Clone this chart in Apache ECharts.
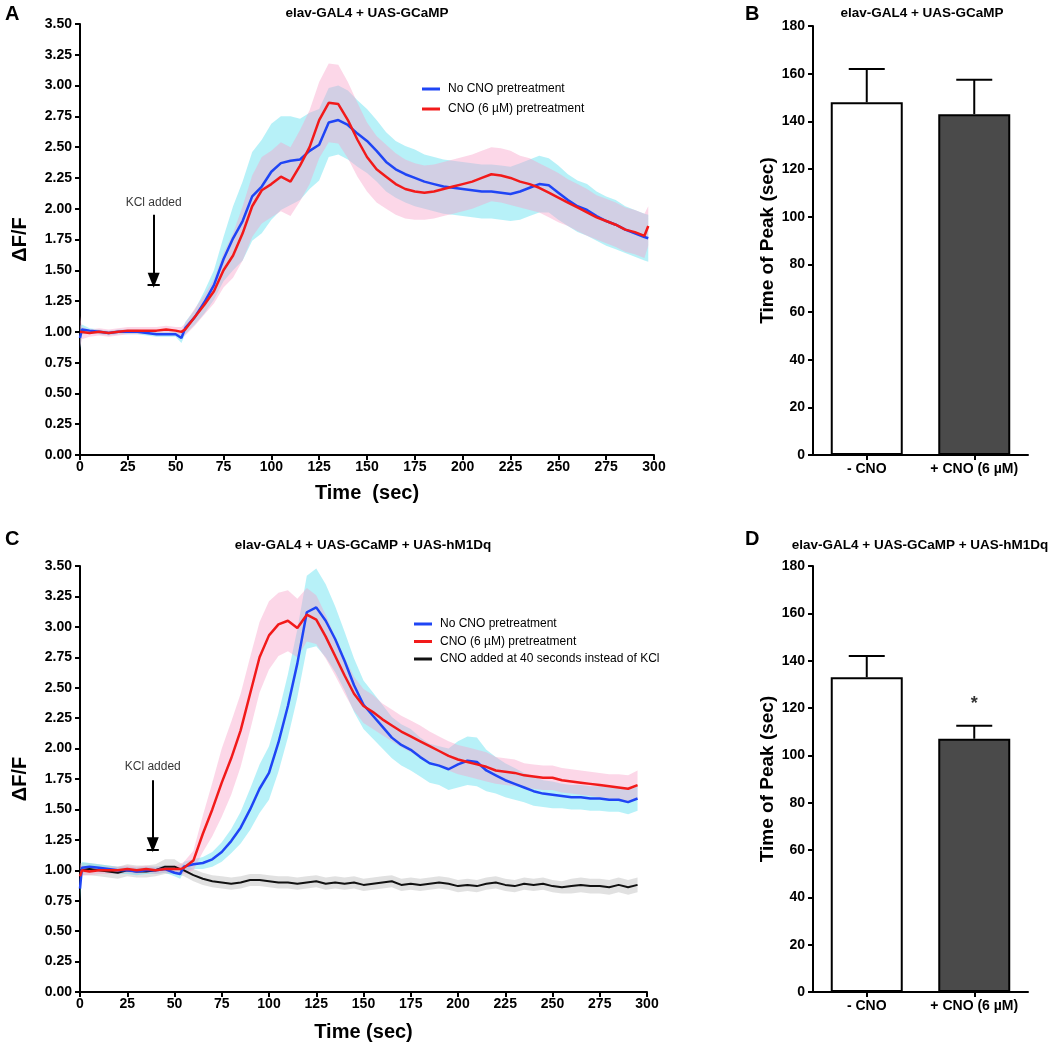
<!DOCTYPE html>
<html>
<head>
<meta charset="utf-8">
<script src="https://cdn.jsdelivr.net/npm/echarts@6/dist/echarts.min.js"></script>
<style>
html,body{margin:0;padding:0;background:#fff;}
#c{width:1050px;height:1045px;}
</style>
</head>
<body>
<div id="c"></div>
<script>
// ---------- DATA ----------
const tA = [0,1,5,10,15,20,25,30,35,40,45,50,53,55,60,65,70,75,80,85,90,95,100,105,110,115,120,125,130,135,140,145,150,155,160,165,170,175,180,185,190,195,200,205,210,215,220,225,230,235,240,245,250,255,260,265,270,275,280,285,290,295,297];
const blueA = [0.95,1.02,1.01,1.00,0.99,1.00,1.00,1.00,0.99,0.98,0.98,0.98,0.95,1.03,
  1.12,1.24,1.38,1.59,1.76,1.90,2.10,2.18,2.30,2.37,
  2.39,2.40,2.47,2.52,2.70,2.72,2.68,2.61,2.55,2.47,
  2.38,2.32,2.28,2.25,2.22,2.20,2.18,2.17,2.16,2.15,
  2.14,2.14,2.13,2.12,2.14,2.17,2.20,2.19,2.13,2.07,
  2.02,1.99,1.94,1.90,1.87,1.83,1.80,1.77,1.76];
const semBlueA = [0.10,0.04,0.02,0.02,0.02,0.02,0.02,0.02,0.02,0.02,0.02,0.02,0.04,0.05,
  0.06,0.09,0.12,0.18,0.26,0.32,0.36,0.38,0.39,0.38,
  0.36,0.33,0.31,0.29,0.28,0.28,0.28,0.27,0.26,0.25,
  0.24,0.23,0.23,0.23,0.22,0.22,0.22,0.22,0.22,0.22,
  0.22,0.22,0.22,0.22,0.23,0.23,0.23,0.22,0.22,0.21,
  0.21,0.21,0.20,0.20,0.20,0.19,0.19,0.19,0.19];
const redA = [1.00,0.99,0.99,1.00,0.99,1.00,1.01,1.01,1.01,1.01,1.02,1.01,1.00,1.02,
  1.12,1.22,1.33,1.50,1.62,1.80,2.02,2.15,2.20,2.26,
  2.22,2.35,2.50,2.72,2.86,2.85,2.72,2.56,2.42,2.32,
  2.26,2.20,2.16,2.14,2.13,2.14,2.16,2.18,2.20,2.22,
  2.25,2.28,2.27,2.25,2.22,2.20,2.17,2.13,2.09,2.05,
  2.01,1.97,1.93,1.90,1.87,1.83,1.81,1.78,1.86];
const semRedA = [0.13,0.05,0.03,0.03,0.03,0.03,0.03,0.03,0.03,0.03,0.03,0.03,0.04,0.05,
  0.07,0.08,0.10,0.14,0.18,0.22,0.25,0.27,0.27,0.28,
  0.28,0.29,0.30,0.31,0.32,0.32,0.31,0.30,0.28,0.27,
  0.26,0.25,0.24,0.23,0.22,0.22,0.22,0.22,0.22,0.22,
  0.22,0.22,0.22,0.22,0.21,0.21,0.20,0.20,0.20,0.19,
  0.19,0.19,0.18,0.18,0.18,0.18,0.18,0.18,0.16];

const tC = [0,1,5,10,15,20,25,30,35,40,45,50,53,55,60,65,70,75,80,85,90,95,100,105,110,115,120,125,130,135,140,145,150,155,160,165,170,175,180,185,190,195,200,205,210,215,220,225,230,235,240,245,250,255,260,265,270,275,280,285,290,295];
const blueC = [0.85,1.02,1.03,1.02,1.01,1.00,1.00,0.99,1.00,1.00,1.01,0.98,0.97,1.03,
  1.05,1.06,1.09,1.15,1.24,1.35,1.50,1.67,1.80,2.05,
  2.35,2.70,3.12,3.16,3.05,2.90,2.72,2.52,2.36,2.27,
  2.18,2.09,2.03,1.99,1.93,1.88,1.86,1.83,1.87,1.90,
  1.89,1.82,1.78,1.74,1.71,1.68,1.65,1.63,1.62,1.61,
  1.60,1.60,1.59,1.59,1.58,1.58,1.56,1.59];
const semBlueC = [0.10,0.05,0.03,0.03,0.03,0.03,0.03,0.03,0.03,0.03,0.03,0.03,0.04,0.04,
  0.04,0.05,0.06,0.08,0.10,0.13,0.17,0.20,0.22,0.24,
  0.26,0.28,0.30,0.32,0.30,0.27,0.24,0.22,0.20,0.19,
  0.18,0.17,0.17,0.17,0.16,0.16,0.16,0.17,0.19,0.20,
  0.20,0.17,0.15,0.14,0.13,0.12,0.12,0.11,0.11,0.10,
  0.10,0.10,0.10,0.10,0.10,0.10,0.10,0.10];
const redC = [0.95,1.00,0.99,1.00,1.00,1.00,1.01,1.00,1.01,1.00,1.01,1.01,1.01,1.02,
  1.08,1.30,1.50,1.72,1.92,2.15,2.45,2.75,2.93,3.02,
  3.05,2.99,3.10,3.06,2.92,2.76,2.60,2.45,2.35,2.30,
  2.24,2.19,2.14,2.10,2.06,2.02,1.98,1.94,1.91,1.89,
  1.87,1.85,1.82,1.81,1.80,1.78,1.77,1.76,1.76,1.74,
  1.73,1.72,1.71,1.70,1.69,1.68,1.67,1.70];
const semRedC = [0.10,0.04,0.03,0.03,0.03,0.03,0.03,0.03,0.03,0.03,0.03,0.03,0.04,0.05,
  0.08,0.15,0.22,0.28,0.30,0.30,0.30,0.29,0.28,0.26,
  0.25,0.24,0.22,0.20,0.18,0.16,0.15,0.14,0.14,0.14,
  0.13,0.13,0.13,0.13,0.13,0.12,0.12,0.12,0.12,0.12,
  0.12,0.12,0.11,0.11,0.11,0.10,0.10,0.10,0.10,0.10,
  0.10,0.10,0.10,0.10,0.10,0.11,0.11,0.12];
const blackC = [1.00,1.01,1.01,1.00,0.99,0.98,1.00,0.99,0.99,1.00,1.03,1.03,1.01,1.00,
  0.96,0.93,0.91,0.90,0.89,0.90,0.92,0.92,0.91,0.90,
  0.90,0.89,0.90,0.91,0.89,0.90,0.89,0.90,0.88,0.89,
  0.90,0.91,0.88,0.89,0.88,0.89,0.90,0.89,0.87,0.88,
  0.87,0.89,0.90,0.88,0.87,0.89,0.88,0.89,0.87,0.86,
  0.87,0.88,0.87,0.87,0.86,0.88,0.86,0.88];
const semBlackC = [0.06,0.05,0.05,0.05,0.05,0.05,0.05,0.05,0.05,0.05,0.06,0.06,0.05,0.05,
  0.05,0.05,0.05,0.05,0.05,0.05,0.05,0.05,0.05,0.05,
  0.05,0.05,0.05,0.05,0.05,0.05,0.05,0.05,0.05,0.05,
  0.05,0.05,0.05,0.05,0.05,0.05,0.05,0.05,0.05,0.05,
  0.05,0.05,0.05,0.05,0.05,0.05,0.05,0.05,0.05,0.05,
  0.06,0.06,0.06,0.06,0.06,0.06,0.06,0.06];

const barCats = ['- CNO', '+ CNO (6 µM)'];
const peakB = [148, 143];
const semPeakB = [14, 14.5];
const peakD = [133, 107];
const semPeakD = [9, 5.5];
const starD = [1, 121.5];

const kclTime = 38.5;
const kclA = {text: 2.05, arrowTop: 1.95, arrowTip: 1.42, bar: 1.38};
const kclC = {text: 1.85, arrowTop: 1.74, arrowTip: 1.21, bar: 1.17};

const seriesNames = ['No CNO pretreatment', 'CNO (6 µM) pretreatment', 'CNO added at 40 seconds instead of KCl'];
const lineColors = ['#1f45f5', '#f21a1a', '#111111'];
const bandColors = ['rgba(95,225,240,0.45)', 'rgba(248,160,200,0.42)', 'rgba(170,170,170,0.35)'];

// ---------- HELPERS ----------
const FF = '"Liberation Sans", Arial, Helvetica, sans-serif';
const zip = (t, v) => t.map((x, i) => [x, v[i]]);

function bandSeries(xi, t, m, s, color) {
  const data = t.map((x, i) => [x, m[i] - s[i], m[i] + s[i]]);
  return {
    type: 'custom', xAxisIndex: xi, yAxisIndex: xi, z: 1, silent: true, clip: true,
    data: data,
    encode: {x: 0, y: [1, 2]},
    renderItem: function (params, api) {
      if (params.dataIndex !== 0) return null;
      const up = data.map(d => api.coord([d[0], d[2]]));
      const lo = data.map(d => api.coord([d[0], d[1]])).reverse();
      return {type: 'polygon', shape: {points: up.concat(lo)}, style: {fill: color}};
    }
  };
}
function lineSeries(xi, name, t, v, color, w) {
  return {type: 'line', name: name, xAxisIndex: xi, yAxisIndex: xi, data: zip(t, v),
    showSymbol: false, symbol: 'none', z: 5, silent: true,
    lineStyle: {color: color, width: w}, itemStyle: {color: color}};
}
function timeAxis(gi, name, gap) {
  return {type: 'value', gridIndex: gi, min: 0, max: 300, interval: 25,
    name: name, nameLocation: 'middle', nameGap: gap,
    nameTextStyle: {fontFamily: FF, fontWeight: 'bold', fontSize: 20, color: '#000'},
    axisLine: {show: true, onZero: false, lineStyle: {color: '#000', width: 2}},
    axisTick: {show: true, length: 5, lineStyle: {color: '#000', width: 2}},
    axisLabel: {margin: 5, fontFamily: FF, fontWeight: 'bold', fontSize: 14, color: '#000'},
    splitLine: {show: false}};
}
function dffAxis(gi) {
  return {type: 'value', gridIndex: gi, min: 0, max: 3.5, interval: 0.25,
    name: 'ΔF/F', nameLocation: 'middle', nameGap: 50, nameRotate: 90,
    nameTextStyle: {fontFamily: FF, fontWeight: 'bold', fontSize: 20, color: '#000'},
    axisLine: {show: true, onZero: false, lineStyle: {color: '#000', width: 2}},
    axisTick: {show: true, length: 5, lineStyle: {color: '#000', width: 2}},
    axisLabel: {margin: 8, fontFamily: FF, fontWeight: 'bold', fontSize: 14, color: '#000',
      formatter: v => v.toFixed(2)},
    splitLine: {show: false}};
}
function catAxis(gi) {
  return {type: 'category', gridIndex: gi, data: barCats,
    axisLine: {show: true, lineStyle: {color: '#000', width: 2}},
    axisTick: {show: true, alignWithLabel: true, length: 5, lineStyle: {color: '#000', width: 2}},
    axisLabel: {interval: 0, hideOverlap: false, margin: 7, fontFamily: FF, fontWeight: 'bold', fontSize: 14, color: '#000'}};
}
function peakAxis(gi) {
  return {type: 'value', gridIndex: gi, min: 0, max: 180, interval: 20,
    name: 'Time of Peak (sec)', nameLocation: 'middle', nameGap: 36, nameRotate: 90,
    nameTextStyle: {fontFamily: FF, fontWeight: 'bold', fontSize: 19, color: '#000'},
    axisLine: {show: true, lineStyle: {color: '#000', width: 2}},
    axisTick: {show: true, length: 5, lineStyle: {color: '#000', width: 2}},
    axisLabel: {margin: 8, fontFamily: FF, fontWeight: 'bold', fontSize: 14, color: '#000'},
    splitLine: {show: false}};
}
function barSeries(xi, vals) {
  return {type: 'bar', xAxisIndex: xi, yAxisIndex: xi, barWidth: 72, z: 2, silent: true,
    data: vals.map((v, i) => ({value: v, itemStyle: {color: i === 0 ? '#ffffff' : '#4a4a4a'}})),
    itemStyle: {borderColor: '#000', borderWidth: 2}};
}
function errSeries(xi, vals, errs) {
  return {type: 'custom', xAxisIndex: xi, yAxisIndex: xi, z: 1, silent: true,
    data: vals.map((v, i) => [i, v, v + errs[i]]),
    encode: {x: 0, y: [1, 2]},
    renderItem: function (params, api) {
      const b = api.coord([api.value(0), api.value(1)]);
      const t = api.coord([api.value(0), api.value(2)]);
      const st = {stroke: '#000', lineWidth: 2};
      return {type: 'group', children: [
        {type: 'line', shape: {x1: b[0], y1: b[1], x2: t[0], y2: t[1]}, style: st},
        {type: 'line', shape: {x1: t[0] - 18, y1: t[1], x2: t[0] + 18, y2: t[1]}, style: st}
      ]};
    }};
}
function kclSeries(xi, k) {
  return {type: 'scatter', xAxisIndex: xi, yAxisIndex: xi, symbolSize: 1, z: 6, silent: true,
    itemStyle: {color: 'rgba(0,0,0,0)'},
    data: [[kclTime, k.text]],
    label: {show: true, position: 'inside', formatter: 'KCl added', fontFamily: FF, fontSize: 12, color: '#000'},
    markLine: {silent: true, animation: false, label: {show: false},
      lineStyle: {color: '#000', width: 2, type: 'solid'},
      data: [
        [{coord: [kclTime, k.arrowTop], symbol: 'none'}, {coord: [kclTime, k.arrowTip], symbol: 'triangle', symbolSize: [12, 15], symbolRotate: 180}],
        [{coord: [kclTime - 3.2, k.bar], symbol: 'none'}, {coord: [kclTime + 3.2, k.bar], symbol: 'none'}]
      ]}};
}

// ---------- CHART ----------
const chart = echarts.init(document.getElementById('c'), null, {renderer: 'canvas'});
const legendText = {fontFamily: FF, fontSize: 12, color: '#000', padding: [0, 0, 0, 3]};
const option = {
  animation: false,
  backgroundColor: '#fff',
  grid: [
    {left: 80, top: 24, width: 574, height: 431},
    {left: 813, top: 26, width: 215, height: 429},
    {left: 80, top: 566, width: 567, height: 426},
    {left: 813, top: 566, width: 215, height: 426}
  ],
  xAxis: [timeAxis(0, 'Time  (sec)', 28), catAxis(1), timeAxis(2, 'Time (sec)', 30), catAxis(3)],
  yAxis: [dffAxis(0), peakAxis(1), dffAxis(2), peakAxis(3)],
  legend: [
    {data: [seriesNames[0], seriesNames[1]], orient: 'vertical', left: 417, top: 78,
      icon: 'rect', itemWidth: 18, itemHeight: 3, itemGap: 8, textStyle: legendText, selectedMode: false},
    {data: [seriesNames[0], seriesNames[1], seriesNames[2]], orient: 'vertical', left: 409, top: 613,
      icon: 'rect', itemWidth: 18, itemHeight: 3, itemGap: 5.5, textStyle: legendText, selectedMode: false}
  ],
  graphic: [
    {type: 'text', left: 5, top: 4, style: {text: 'A', font: 'bold 20px ' + FF, fill: '#000'}},
    {type: 'text', left: 745, top: 4, style: {text: 'B', font: 'bold 20px ' + FF, fill: '#000'}},
    {type: 'text', left: 5, top: 529, style: {text: 'C', font: 'bold 20px ' + FF, fill: '#000'}},
    {type: 'text', left: 745, top: 529, style: {text: 'D', font: 'bold 20px ' + FF, fill: '#000'}},
    {type: 'text', x: 367, y: 13, style: {text: 'elav-GAL4 + UAS-GCaMP', font: 'bold 13.5px ' + FF, fill: '#000', textAlign: 'center', textVerticalAlign: 'middle'}},
    {type: 'text', x: 922, y: 13, style: {text: 'elav-GAL4 + UAS-GCaMP', font: 'bold 13.5px ' + FF, fill: '#000', textAlign: 'center', textVerticalAlign: 'middle'}},
    {type: 'text', x: 363, y: 545, style: {text: 'elav-GAL4 + UAS-GCaMP + UAS-hM1Dq', font: 'bold 13.5px ' + FF, fill: '#000', textAlign: 'center', textVerticalAlign: 'middle'}},
    {type: 'text', x: 920, y: 545, style: {text: 'elav-GAL4 + UAS-GCaMP + UAS-hM1Dq', font: 'bold 13.5px ' + FF, fill: '#000', textAlign: 'center', textVerticalAlign: 'middle'}}
  ],
  series: [
    bandSeries(0, tA, blueA, semBlueA, bandColors[0]),
    bandSeries(0, tA, redA, semRedA, bandColors[1]),
    lineSeries(0, seriesNames[0], tA, blueA, lineColors[0], 2.5),
    lineSeries(0, seriesNames[1], tA, redA, lineColors[1], 2.5),
    kclSeries(0, kclA),

    barSeries(1, peakB),
    errSeries(1, peakB, semPeakB),

    bandSeries(2, tC, blackC, semBlackC, bandColors[2]),
    bandSeries(2, tC, blueC, semBlueC, bandColors[0]),
    bandSeries(2, tC, redC, semRedC, bandColors[1]),
    lineSeries(2, seriesNames[2], tC, blackC, lineColors[2], 2),
    lineSeries(2, seriesNames[0], tC, blueC, lineColors[0], 2.5),
    lineSeries(2, seriesNames[1], tC, redC, lineColors[1], 2.5),
    kclSeries(2, kclC),

    barSeries(3, peakD),
    errSeries(3, peakD, semPeakD),
    {type: 'scatter', xAxisIndex: 3, yAxisIndex: 3, symbolSize: 1, silent: true, z: 6,
      itemStyle: {color: 'rgba(0,0,0,0)'}, data: [starD],
      label: {show: true, position: 'inside', formatter: '*', fontFamily: FF, fontWeight: 'bold', fontSize: 18, color: '#000'}}
  ]
};
chart.setOption(option);
</script>
</body>
</html>
